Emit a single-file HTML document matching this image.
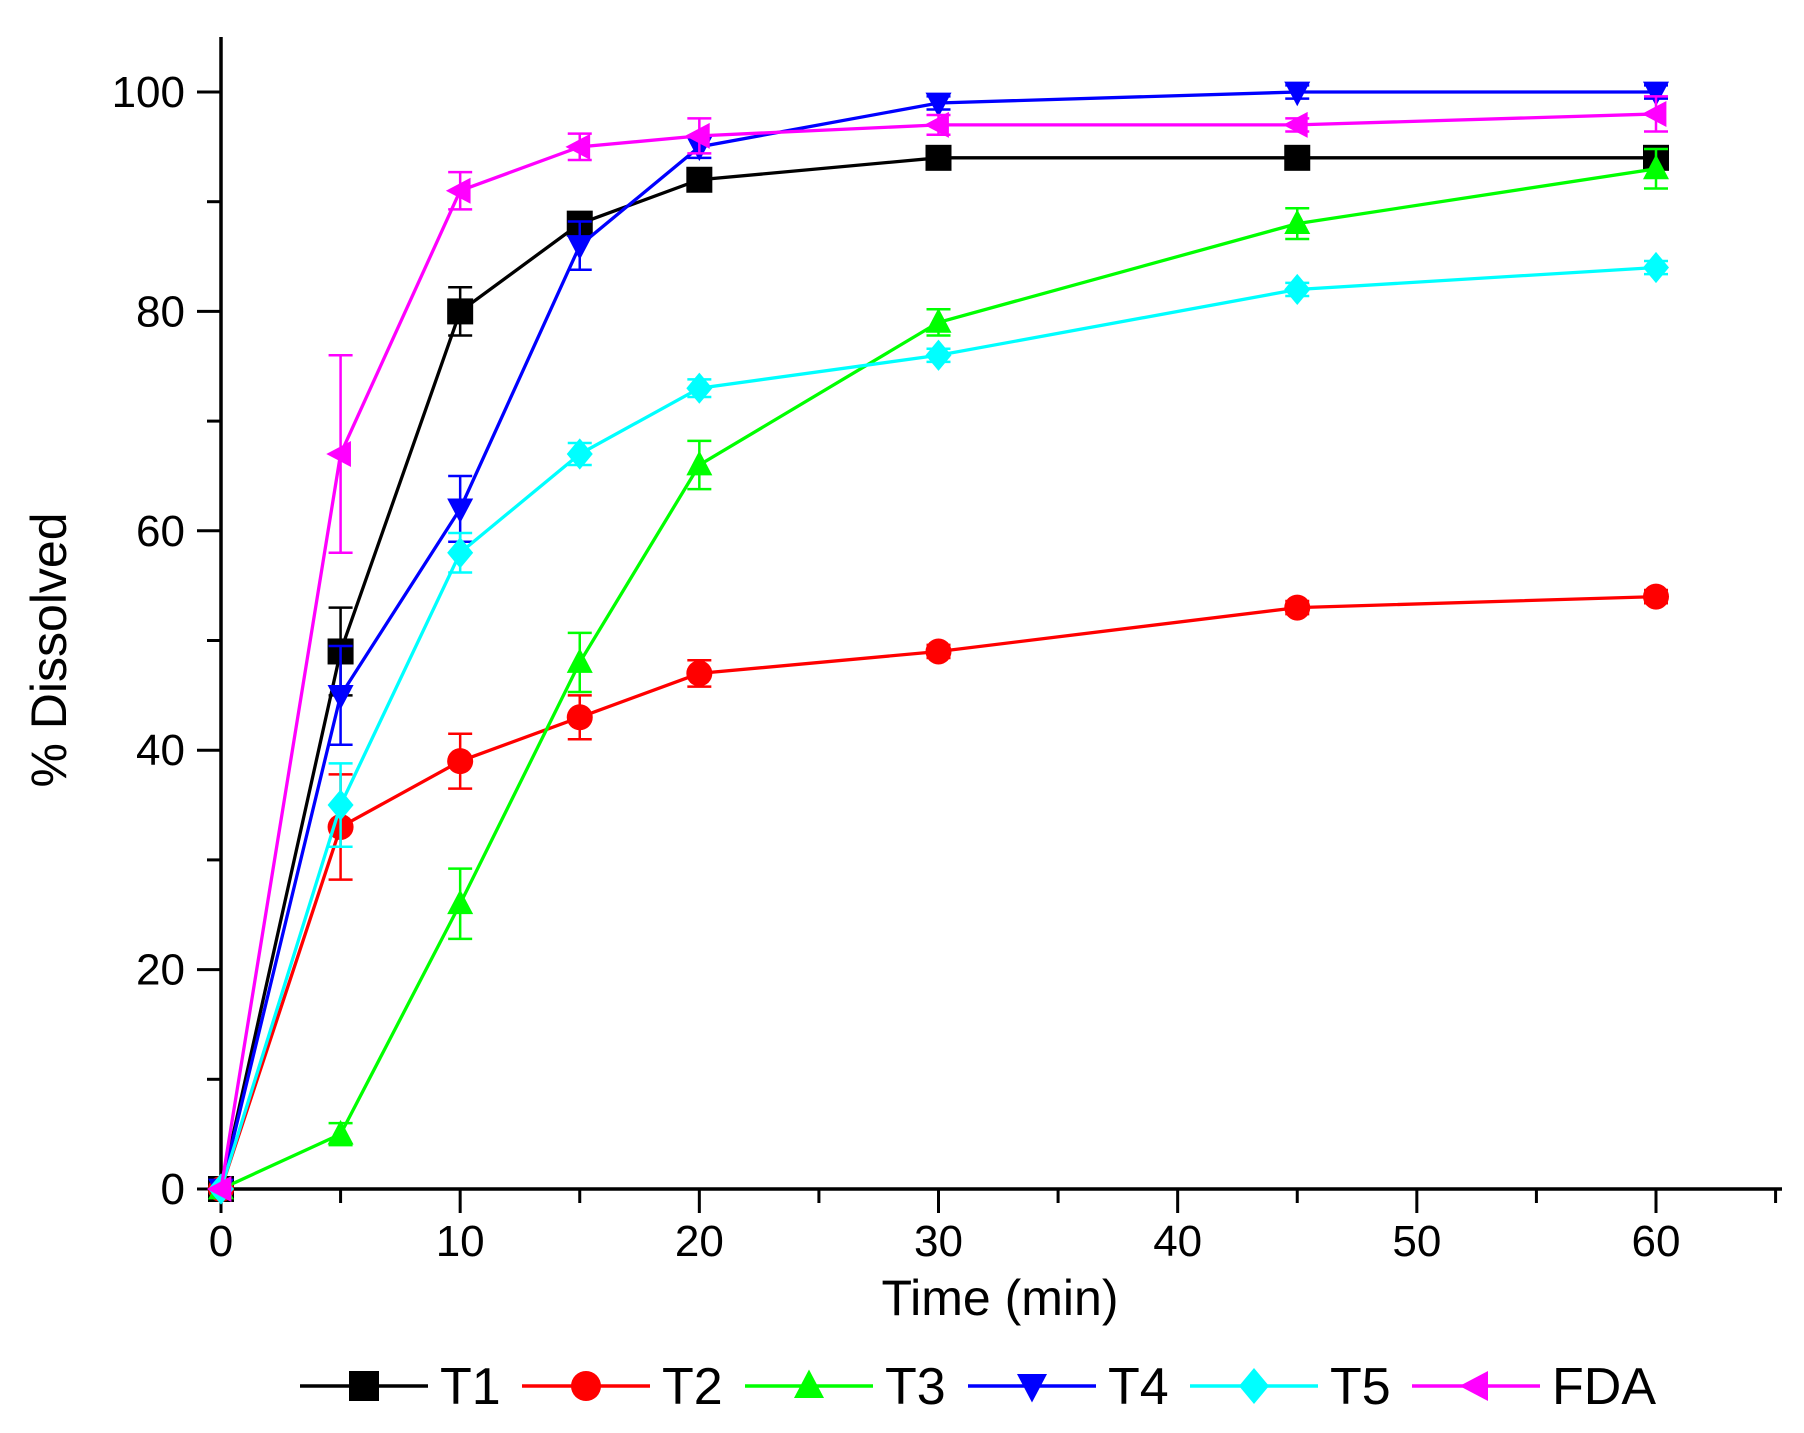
<!DOCTYPE html>
<html><head><meta charset="utf-8"><style>
html,body{margin:0;padding:0;background:#fff;}
svg{display:block;font-family:"Liberation Sans",Arial,sans-serif;}
</style></head><body>
<svg id="chart" width="1804" height="1433" viewBox="0 0 1804 1433">
<g id="axes"></g>
<g id="series"></g>
<g id="legend"></g>
</svg>
<script>
const times = [0, 5, 10, 15, 20, 30, 45, 60];
const seriesNames = ["T1", "T2", "T3", "T4", "T5", "FDA"];
const seriesColors = ["#000000", "#ff0000", "#00ff00", "#0000ff", "#00ffff", "#ff00ff"];
const t1Values = [0, 49, 80, 88, 92, 94, 94, 94];
const t1Err = [0, 4, 2.2, 1, 0.8, 0.6, 0.6, 0.6];
const t2Values = [0, 33, 39, 43, 47, 49, 53, 54];
const t2Err = [0, 4.8, 2.5, 2, 1.2, 0.6, 0.6, 0.6];
const t3Values = [0, 5, 26, 48, 66, 79, 88, 93];
const t3Err = [0, 1, 3.2, 2.7, 2.2, 1.2, 1.4, 1.8];
const t4Values = [0, 45, 62, 86, 95, 99, 100, 100];
const t4Err = [0, 4.5, 3, 2.2, 1, 0.6, 0.6, 0.6];
const t5Values = [0, 35, 58, 67, 73, 76, 82, 84];
const t5Err = [0, 3.8, 1.8, 1, 0.8, 0.6, 0.6, 0.6];
const fdaValues = [0, 67, 91, 95, 96, 97, 97, 98];
const fdaErr = [0, 9, 1.7, 1.2, 1.6, 0.9, 0.6, 1.6];
const xTicks = [0, 10, 20, 30, 40, 50, 60];
const xMinorTicks = [5, 15, 25, 35, 45, 55, 65];
const yTicks = [0, 20, 40, 60, 80, 100];
const yMinorTicks = [10, 30, 50, 70, 90];

const NS = "http://www.w3.org/2000/svg";
const X0 = 221, X60 = 1656, Y0 = 1189, Y100 = 92;
function xs(v){ return X0 + (X60 - X0) * v / 60; }
function ys(v){ return Y0 - (Y0 - Y100) * v / 100; }
function mk(tag, attrs, parent){ const e = document.createElementNS(NS, tag); for (const k in attrs) e.setAttribute(k, attrs[k]); parent.appendChild(e); return e; }

const axes = document.getElementById("axes");
let e;
e = mk("line", {x1: X0, y1: 37, x2: X0, y2: Y0 + 2, stroke: "#000", "stroke-width": 3.5}, axes);


e = mk("line", {x1: X0 - 2, y1: Y0, x2: 1782, y2: Y0, stroke: "#000", "stroke-width": 3.5}, axes);


xTicks.forEach(t => {
  e = mk("line", {x1: xs(t), y1: Y0, x2: xs(t), y2: Y0 + 24, stroke: "#000", "stroke-width": 3}, axes);
  
  
  e = mk("text", {x: xs(t), y: Y0 + 67, "font-size": 44, "text-anchor": "middle"}, axes);
  e.textContent = t;
  
  
});
xMinorTicks.forEach(t => {
  e = mk("line", {x1: xs(t), y1: Y0, x2: xs(t), y2: Y0 + 14, stroke: "#000", "stroke-width": 3}, axes);
  
  
});
yTicks.forEach(t => {
  e = mk("line", {x1: X0 - 24, y1: ys(t), x2: X0, y2: ys(t), stroke: "#000", "stroke-width": 3}, axes);
  
  
  e = mk("text", {x: X0 - 36, y: ys(t) + 15, "font-size": 44, "text-anchor": "end"}, axes);
  e.textContent = t;
  
  
});
yMinorTicks.forEach(t => {
  e = mk("line", {x1: X0 - 14, y1: ys(t), x2: X0, y2: ys(t), stroke: "#000", "stroke-width": 3}, axes);
  
  
});
e = mk("text", {x: 1000, y: 1315, "font-size": 50, "text-anchor": "middle"}, axes);
e.textContent = "Time (min)";


e = mk("text", {x: 0, y: 0, "font-size": 50, "text-anchor": "middle", transform: "translate(66,650) rotate(-90)"}, axes);
e.textContent = "% Dissolved";



function marker(kind, cx, cy, s, color, parent){
  const h = s / 2;
  let pts;
  if (kind === 0) return mk("rect", {x: cx - h, y: cy - h, width: s, height: s, fill: color}, parent);
  if (kind === 1) return mk("circle", {cx: cx, cy: cy, r: h, fill: color}, parent);
  if (kind === 2) pts = [[cx, cy - h*1.1],[cx - h, cy + h*0.8],[cx + h, cy + h*0.8]];
  if (kind === 3) pts = [[cx, cy + h*1.1],[cx - h, cy - h*0.8],[cx + h, cy - h*0.8]];
  if (kind === 4) pts = [[cx, cy - h*1.2],[cx + h, cy],[cx, cy + h*1.2],[cx - h, cy]];
  if (kind === 5) pts = [[cx - h*1.1, cy],[cx + h*0.8, cy - h],[cx + h*0.8, cy + h]];
  return mk("polygon", {points: pts.map(p => p.join(",")).join(" "), fill: color}, parent);
}

const allValues = [t1Values, t2Values, t3Values, t4Values, t5Values, fdaValues];
const allErr = [t1Err, t2Err, t3Err, t4Err, t5Err, fdaErr];
const layer = document.getElementById("series");
allValues.forEach((vals, si) => {
  const g = mk("g", {}, layer);
  
  
  const col = seriesColors[si];
  const pl = mk("polyline", {points: vals.map((v, i) => xs(times[i]) + "," + ys(v)).join(" "), fill: "none", stroke: col, "stroke-width": 3.3}, g);
  
  
  vals.forEach((v, i) => {
    const err = allErr[si][i];
    if (err > 0) {
      const x = xs(times[i]), yt = ys(v + err), yb = ys(v - err);
      const eb = mk("path", {d: `M${x},${yt}V${yb}M${x-12},${yt}H${x+12}M${x-12},${yb}H${x+12}`, stroke: col, "stroke-width": 2.5, fill: "none"}, g);
      
      
    }
    const m = marker(si, xs(times[i]), ys(v), 26, col, g);
    
    
  });
});

const legend = document.getElementById("legend");
const legendX = [300, 522, 745, 968, 1190, 1412];
seriesNames.forEach((n, si) => {
  const g = mk("g", {}, legend);
  
  
  const lx = legendX[si], ly = 1386, col = seriesColors[si];
  mk("line", {x1: lx, y1: ly, x2: lx + 128, y2: ly, stroke: col, "stroke-width": 3.5}, g);
  const m = marker(si, lx + 64, ly, 30, col, g);
  
  
  const t = mk("text", {x: lx + 140, y: ly + 18, "font-size": 52}, g);
  t.textContent = n;
  
  
});
</script>
</body></html>
